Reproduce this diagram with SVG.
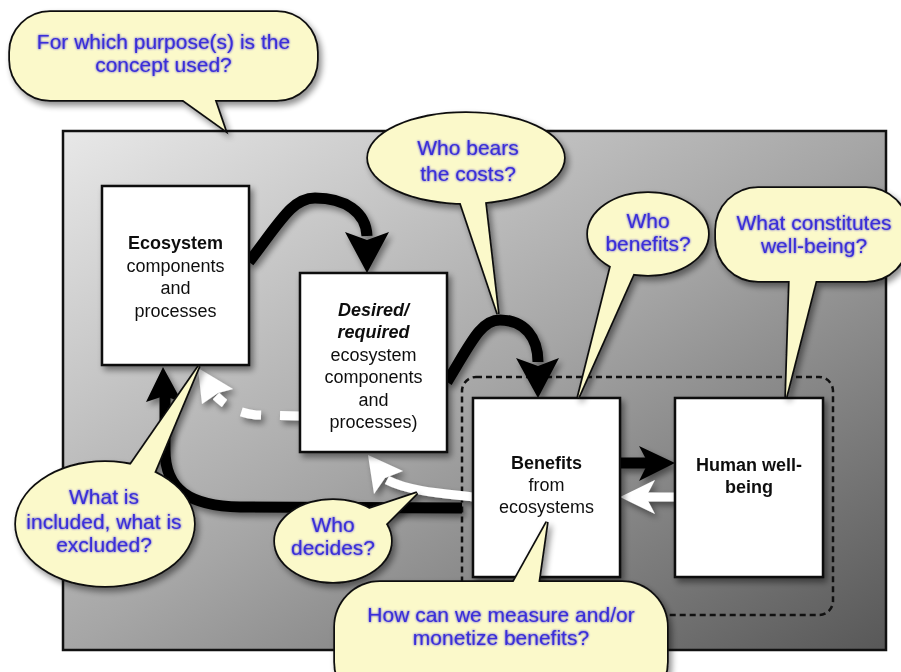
<svg xmlns="http://www.w3.org/2000/svg" width="901" height="672" viewBox="0 0 901 672">
<defs>
<linearGradient id="panelGrad" x1="0" y1="0" x2="1" y2="1">
<stop offset="0" stop-color="#e8e8e8"/>
<stop offset="0.5" stop-color="#a6a6a6"/>
<stop offset="1" stop-color="#585858"/>
</linearGradient>
<filter id="sh" x="-20%" y="-20%" width="150%" height="150%">
<feGaussianBlur in="SourceAlpha" stdDeviation="3"/>
<feOffset dx="3" dy="4"/>
<feComponentTransfer><feFuncA type="linear" slope="0.45"/></feComponentTransfer>
<feMerge><feMergeNode/><feMergeNode in="SourceGraphic"/></feMerge>
</filter>
<filter id="glow" x="-10%" y="-30%" width="120%" height="160%">
<feGaussianBlur in="SourceGraphic" stdDeviation="1.3" result="g"/>
<feMerge><feMergeNode in="g"/><feMergeNode in="SourceGraphic"/></feMerge>
</filter>
<style>
.box{fill:#ffffff;stroke:#111;stroke-width:2.5}
.bt{font-family:"Liberation Sans",Arial,sans-serif;font-size:18px;fill:#111;text-anchor:middle}
.b{font-weight:bold}
.bi{font-weight:bold;font-style:italic}
.q{font-family:"Liberation Sans",Arial,sans-serif;font-size:21px;fill:#3a2fd8;text-anchor:middle;filter:url(#glow)}
.bs{fill:#fbf9ca;stroke:#111;stroke-width:3.5}
.bf{fill:#fbf9ca;stroke:none}
.blk{fill:none;stroke:#000;stroke-width:11}
.wht{fill:none;stroke:#fff;stroke-width:9}
.ah{fill:#000}
.aw{fill:#fff}
</style>
</defs>

<rect id="panel" x="63" y="131" width="823" height="519" fill="url(#panelGrad)" stroke="#111" stroke-width="2.5"/>
<rect id="group-outline" x="462" y="377" width="371" height="238" rx="14" fill="none" stroke="#111" stroke-width="2.5" stroke-dasharray="6 4"/>

<g id="connectors" filter="url(#sh)">
<path class="blk" d="M249,262 C 280,222 292,198 315,198 C 345,198 366,212 367,236"/>
<polygon class="ah" points="367,273 345,232 367,240 389,232"/>
<path class="blk" d="M447,382 C 470,345 480,320 500,320 C 525,320 538,338 538,362"/>
<polygon class="ah" points="538,398 516,358 538,366 559,358"/>
<path class="blk" d="M620,463 L648,463"/>
<polygon class="ah" points="675,463 639,446 648,463 639,481"/>
<path class="wht" d="M675,497 L646,497"/>
<polygon class="aw" points="620,497 655,480 646,497 655,514"/>
<path class="blk" d="M462,508 L240,507 C 190,506 165,490 165,450 L165,396"/>
<polygon class="ah" points="163,367 146,402 164,396 182,402"/>
<path class="wht" d="M473,497 C 450,494 410,492 387,480"/>
<polygon class="aw" points="368,455 403,471 385,478 374,494"/>
<path class="wht" stroke-width="8" stroke-dasharray="20 19" d="M300,416 L256,415 C 240,413 228,408 216,396"/>
<polygon class="aw" points="198,368 233,389 218,393 202,404"/>
</g>

<g id="ecosystem" filter="url(#sh)">
<rect class="box" x="102" y="186" width="147" height="179"/>
<text class="bt" x="175.5" y="249"><tspan class="b">Ecosystem</tspan><tspan x="175.5" y="272">components</tspan><tspan x="175.5" y="294">and</tspan><tspan x="175.5" y="317">processes</tspan></text>
</g>

<g id="desired" filter="url(#sh)">
<rect class="box" x="300" y="273" width="147" height="179"/>
<text class="bt" x="373.5" y="316"><tspan class="bi">Desired/</tspan><tspan class="bi" x="373.5" y="338">required</tspan><tspan x="373.5" y="361">ecosystem</tspan><tspan x="373.5" y="383">components</tspan><tspan x="373.5" y="406">and</tspan><tspan x="373.5" y="428">processes)</tspan></text>
</g>

<g id="benefits" filter="url(#sh)">
<rect class="box" x="473" y="398" width="147" height="179"/>
<text class="bt" x="546.5" y="469"><tspan class="b">Benefits</tspan><tspan x="546.5" y="491">from</tspan><tspan x="546.5" y="513">ecosystems</tspan></text>
</g>

<g id="human" filter="url(#sh)">
<rect class="box" x="675" y="398" width="148" height="179"/>
<text class="bt b" x="749" y="471">Human well-<tspan x="749" y="493">being</tspan></text>
</g>

<g id="q-purpose" filter="url(#sh)">
<rect class="bs" x="10" y="12" width="307" height="88" rx="40"/>
<polygon class="bs" points="172,92 225,130 212,92"/>
<rect class="bf" x="10" y="12" width="307" height="88" rx="40"/>
<polygon class="bf" points="172,92 225,130 212,92"/>
<text class="q" x="163.5" y="49">For which purpose(s) is the<tspan x="163.5" y="72">concept used?</tspan></text>
</g>

<g id="q-costs" filter="url(#sh)">
<ellipse class="bs" cx="466" cy="158" rx="98" ry="45"/>
<polygon class="bs" points="458,195 498,314 484,193"/>
<ellipse class="bf" cx="466" cy="158" rx="98" ry="45"/>
<polygon class="bf" points="458,195 498,314 484,193"/>
<text class="q" x="468" y="155">Who bears<tspan x="468" y="181">the costs?</tspan></text>
</g>

<g id="q-benefits" filter="url(#sh)">
<ellipse class="bs" cx="648" cy="234" rx="60" ry="41"/>
<polygon class="bs" points="612,262 578,398 636,268"/>
<ellipse class="bf" cx="648" cy="234" rx="60" ry="41"/>
<polygon class="bf" points="612,262 578,398 636,268"/>
<text class="q" x="648" y="228">Who<tspan x="648" y="251">benefits?</tspan></text>
</g>

<g id="q-wellbeing" filter="url(#sh)">
<rect class="bs" x="716" y="188" width="192" height="93" rx="42"/>
<polygon class="bs" points="790,272 786,397 818,272"/>
<rect class="bf" x="716" y="188" width="192" height="93" rx="42"/>
<polygon class="bf" points="790,272 786,397 818,272"/>
<text class="q" x="814" y="230">What constitutes<tspan x="814" y="253">well-being?</tspan></text>
</g>

<g id="q-included" filter="url(#sh)">
<ellipse class="bs" cx="105" cy="524" rx="89" ry="62"/>
<polygon class="bs" points="127,470 199,366 152,478"/>
<ellipse class="bf" cx="105" cy="524" rx="89" ry="62"/>
<polygon class="bf" points="127,470 199,366 152,478"/>
<text class="q" x="104" y="504">What is<tspan x="104" y="529">included, what is</tspan><tspan x="104" y="552">excluded?</tspan></text>
</g>

<g id="q-decides" filter="url(#sh)">
<ellipse class="bs" cx="333" cy="541" rx="58" ry="41"/>
<polygon class="bs" points="360,512 417,493 382,528"/>
<ellipse class="bf" cx="333" cy="541" rx="58" ry="41"/>
<polygon class="bf" points="360,512 417,493 382,528"/>
<text class="q" x="333" y="532">Who<tspan x="333" y="555">decides?</tspan></text>
</g>

<g id="q-measure" filter="url(#sh)">
<rect class="bs" x="335" y="582" width="332" height="125" rx="45"/>
<polygon class="bs" points="508,592 547,522 537,592"/>
<rect class="bf" x="335" y="582" width="332" height="125" rx="45"/>
<polygon class="bf" points="508,592 547,522 537,592"/>
<text class="q" x="501" y="622">How can we measure and/or<tspan x="501" y="645">monetize benefits?</tspan></text>
</g>
</svg>
